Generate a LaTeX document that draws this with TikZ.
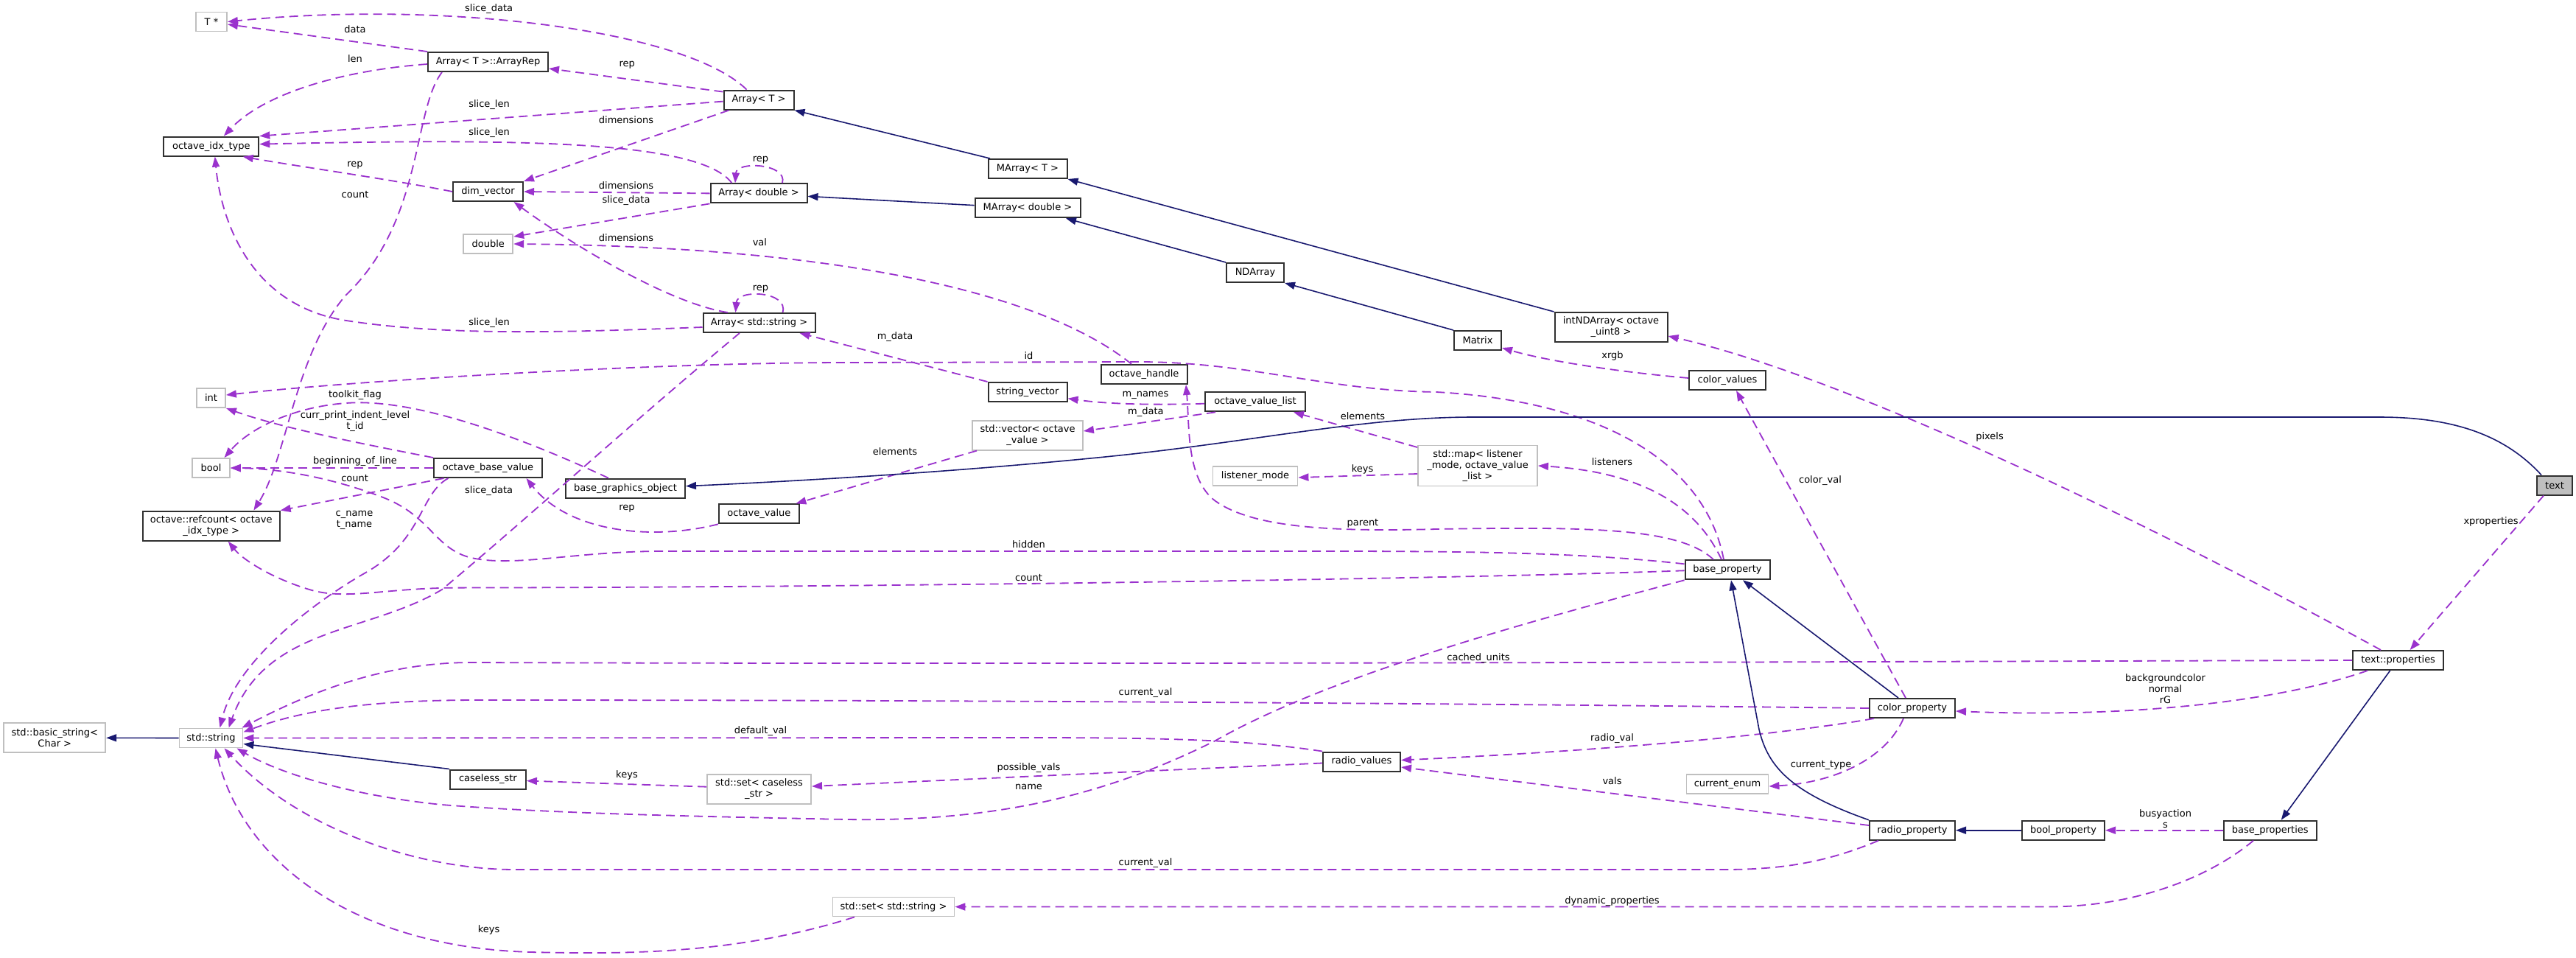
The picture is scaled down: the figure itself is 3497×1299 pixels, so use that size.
\documentclass[tikz,border=0pt]{standalone}
\usepackage{fontspec}
\setmainfont{DejaVu Sans}
\usetikzlibrary{arrows.meta}
\definecolor{usecol}{HTML}{9A32CD}
\definecolor{inhcol}{HTML}{191970}
\definecolor{grayb}{HTML}{BFBFBF}
\definecolor{darkb}{HTML}{303030}
\begin{document}
\begin{tikzpicture}[x=1pt,y=-1pt,
  every node/.style={font=\fontsize{13pt}{15pt}\selectfont, inner sep=0pt},
  clsbox/.style={draw=darkb, line width=2pt, fill=white, minimum height=26pt, align=center},
  extbox/.style={draw=grayb, line width=1.8pt, fill=white, minimum height=26pt, align=center},
  lbl/.style={align=center},
  usedge/.style={draw=usecol, line width=1.8pt, dash pattern=on 12pt off 7pt, -{Triangle[length=14pt,width=10pt]}},
  inhedge/.style={draw=inhcol, line width=1.6pt, -{Triangle[length=14pt,width=10pt]}}]
\fill[white] (0,0) rectangle (3497,1299);
\useasboundingbox (0,0) rectangle (3497,1299);

% nodes
\node[extbox, minimum width=42pt] (tstar) at (287,29.5) {T *};
\node[clsbox, minimum width=163pt] (arep) at (662.5,84) {Array< T >::ArrayRep};
\node[clsbox, minimum width=129pt] (oidx) at (286.8,198.6) {octave\_idx\_type};
\node[clsbox, minimum width=95pt] (dimv) at (662.5,260) {dim\_vector};
\node[extbox, minimum width=67pt] (dbl) at (662.8,331) {double};
\node[extbox, minimum width=39pt] (intn) at (286.5,540) {int};
\node[extbox, minimum width=51pt] (booln) at (286.5,635) {bool};
\node[clsbox, minimum width=147pt] (obv) at (662.5,635) {octave\_base\_value};
\node[clsbox, minimum width=95pt] (arrT) at (1030,135.6) {Array< T >};
\node[clsbox, minimum width=131pt] (arrD) at (1030,262.4) {Array< double >};
\node[clsbox, minimum width=107pt] (marrT) at (1395,229) {MArray< T >};
\node[clsbox, minimum width=143pt] (marrD) at (1395,282.3) {MArray< double >};
\node[clsbox, minimum width=78pt] (ndarr) at (1704,370) {NDArray};
\node[clsbox, minimum width=152pt] (arrS) at (1030.5,438) {Array< std::string >};
\node[clsbox, minimum width=107pt] (strvec) at (1395,532) {string\_vector};
\node[clsbox, minimum width=117pt] (ohandle) at (1553,508) {octave\_handle};
\node[clsbox, minimum width=136pt] (ovl) at (1704,545.3) {octave\_value\_list};
\node[extbox, minimum width=150pt, minimum height=40pt] (stdvec) at (1395,590.7) {std::vector< octave\\\_value >};
\node[extbox, minimum width=115pt] (lmode) at (1704,646) {listener\_mode};
\node[clsbox, minimum width=153pt, minimum height=40pt] (intnd) at (2187,444) {intNDArray< octave\\\_uint8 >};
\node[clsbox, minimum width=64pt] (matrix) at (2006,462) {Matrix};
\node[clsbox, minimum width=104pt] (cvals) at (2345,516) {color\_values};
\node[extbox, minimum width=162pt, minimum height=55pt] (stdmap) at (2006,632) {std::map< listener\\\_mode, octave\_value\\\_list >};
\node[clsbox, minimum width=115pt] (bprop) at (2345,773.3) {base\_property};
\node[clsbox, minimum width=116pt] (cprop) at (2596,961) {color\_property};
\node[clsbox, minimum width=105pt] (rvals) at (1848.5,1033.5) {radio\_values};
\node[extbox, minimum width=111pt] (cenum) at (2345,1064) {current\_enum};
\node[clsbox, minimum width=116pt] (rprop) at (2596,1126.7) {radio\_property};
\node[clsbox, minimum width=123pt] (tprops) at (3255.6,896) {text::properties};
\node[clsbox, minimum width=112pt] (boolprop) at (2801,1126.7) {bool\_property};
\node[clsbox, minimum width=126pt] (bprops) at (3081.7,1126.7) {base\_properties};
\node[clsbox, fill=grayb, minimum width=48pt] (textn) at (3468,658.6) {text};
\node[clsbox, minimum width=186pt, minimum height=40pt] (refc) at (286.7,713.6) {octave::refcount< octave\\\_idx\_type >};
\node[extbox, minimum width=138pt, minimum height=40pt] (bstr) at (74.3,1001.3) {std::basic\_string<\\Char >};
\node[extbox, minimum width=86pt] (sstr) at (286.5,1001.5) {std::string};
\node[clsbox, minimum width=103pt] (cstr) at (662.4,1057.5) {caseless\_str};
\node[clsbox, minimum width=162pt] (bgo) at (849,662.7) {base\_graphics\_object};
\node[clsbox, minimum width=109pt] (oval) at (1030.4,697.3) {octave\_value};
\node[extbox, minimum width=141pt, minimum height=40pt] (setcs) at (1030.6,1070.7) {std::set< caseless\\\_str >};
\node[extbox, minimum width=165pt] (setss) at (1213,1230.5) {std::set< std::string >};

% usage edges
\draw[usedge] ([xshift=-16.4pt]arrT.north) .. controls (930,40) and (600,0) .. (tstar.east);
\draw[usedge] (arep.north west) -- ([yshift=-3.5pt]tstar.east);
\draw[usedge] ([yshift=11pt]arrT.west) -- ([yshift=-9pt]arep.east);
\draw[usedge] ([yshift=-2pt]arrT.west) -- (oidx.north east);
\draw[usedge] ([xshift=8pt]arrT.south west) -- (dimv.north east);
\draw[usedge] ([yshift=-3pt]arep.west) .. controls (470,95) and (360,125) .. ([xshift=17pt]oidx.north);
\draw[usedge] ([xshift=-62.5pt]arep.south) .. controls (560,150) and (575,300) .. (470,400) .. controls (400,480) and (390,620) .. ([xshift=57.7pt]refc.north);
\draw[usedge] ([xshift=32pt]arrD.north) .. controls (1070,222) and (1000,218) .. ([xshift=-32pt]arrD.north);
\draw[usedge] ([xshift=-36.5pt]arrD.north) .. controls (950,190) and (700,188) .. ([yshift=3pt]oidx.east);
\draw[usedge] (arrD.west) -- (dimv.east);
\draw[usedge] (arrD.south west) -- ([yshift=-4pt]dbl.north east);
\draw[usedge] ([xshift=32pt]arrS.north) .. controls (1071,395) and (1001,392) .. ([xshift=-32pt]arrS.north);
\draw[usedge] ([yshift=-6pt]arrS.west) .. controls (750,452) and (600,455) .. (470,435) .. controls (340,415) and (300,300) .. ([xshift=5pt]oidx.south);
\draw[usedge] ([xshift=-42.7pt]arrS.north) .. controls (900,410) and (760,320) .. ([xshift=35pt]dimv.south);
\draw[usedge] ([xshift=-26.5pt]arrS.south) .. controls (850,580) and (720,700) .. (600,800) .. controls (500,860) and (360,850) .. ([xshift=24pt]sstr.north);
\draw[usedge] (dimv.west) .. controls (540,245) and (400,225) .. ([xshift=43pt]oidx.south);
\draw[usedge] ([xshift=-17pt]ohandle.north) .. controls (1420,400) and (1150,335) .. (dbl.east);
\draw[usedge] (strvec.north west) -- ([xshift=55pt]arrS.south);
\draw[usedge] ([yshift=-2.4pt]ovl.west) .. controls (1560,550) and (1500,548) .. ([yshift=-8.7pt]strvec.east);
\draw[usedge] ([xshift=-54pt]ovl.south) -- ([yshift=5.7pt]stdvec.east);
\draw[usedge] ([xshift=-69pt]stdvec.south) -- ([xshift=50pt]oval.north);
\draw[usedge] (oval.south west) .. controls (880,735) and (770,720) .. ([xshift=52pt]obv.south);
\draw[usedge] (obv.north west) .. controls (480,600) and (380,580) .. (intn.south east);
\draw[usedge] (obv.west) -- (booln.east);
\draw[usedge] ([xshift=-60pt]obv.south) -- (refc.north east);
\draw[usedge] ([xshift=-54pt]obv.south) .. controls (570,670) and (575,730) .. (500,775) .. controls (420,820) and (320,900) .. ([xshift=12pt]sstr.north);
\draw[usedge] ([xshift=-23pt]bgo.north) .. controls (700,590) and (560,540) .. (470,547) .. controls (400,552) and (340,580) .. ([xshift=18pt]booln.north);
\draw[usedge] ([yshift=8pt]bprop.west) .. controls (2150,750) and (2000,748) .. (1800,748) -- (900,748) .. controls (780,748) and (700,770) .. (640,757) .. controls (590,745) and (585,700) .. (520,675) .. controls (450,648) and (380,636) .. (booln.east);
\draw[usedge] ([yshift=-1pt]bprop.west) .. controls (2000,785) and (1200,797) .. (620,797.6) .. controls (520,798) and (470,815) .. (420,800) .. controls (370,785) and (330,760) .. ([xshift=23pt]refc.south);
\draw[usedge] ([xshift=-5pt]bprop.north) .. controls (2315,630) and (2180,545) .. (1950,532) .. controls (1800,530) and (1700,492) .. (1550,491) -- (1150,492) .. controls (900,492) and (500,515) .. ([yshift=4pt]intn.east);
\draw[usedge] ([xshift=-19pt]bprop.north) .. controls (2280,715) and (2150,715) .. (1950,718) .. controls (1800,722) and (1700,715) .. (1650,680) .. controls (1610,650) and (1615,580) .. ([xshift=57pt]ohandle.south);
\draw[usedge] ([xshift=-8pt]bprop.north) .. controls (2300,680) and (2220,640) .. (stdmap.east);
\draw[usedge] (bprop.south west) .. controls (2050,850) and (1800,920) .. (1650,1005) .. controls (1500,1080) and (1350,1115) .. (1150,1112) .. controls (950,1108) and (750,1104) .. (600,1092) .. controls (480,1080) and (380,1050) .. ([xshift=35pt]sstr.south);
\draw[usedge] ([yshift=-11pt]stdmap.west) -- ([yshift=-2pt]lmode.east);
\draw[usedge] ([yshift=25pt]stdmap.west) -- ([xshift=52pt]ovl.south);
\draw[usedge] ([yshift=3pt]cvals.west) .. controls (2200,505) and (2100,490) .. ([yshift=-10pt]matrix.east);
\draw[usedge] ([xshift=-52pt]cprop.south) .. controls (2400,1000) and (2150,1020) .. ([yshift=2pt]rvals.east);
\draw[usedge] ([xshift=-9pt]cprop.north) -- ([xshift=12pt]cvals.south);
\draw[usedge] ([xshift=-12pt]cprop.south) .. controls (2560,1030) and (2490,1062) .. ([yshift=-3pt]cenum.east);
\draw[usedge] (cprop.west) .. controls (2200,957) and (1500,950) .. (650,950) .. controls (520,950) and (420,960) .. ([yshift=8pt]sstr.east);
\draw[usedge] ([yshift=6.7pt]rprop.west) -- ([yshift=-7.5pt]rvals.east);
\draw[usedge] ([xshift=-46pt]rprop.south) .. controls (2480,1170) and (2420,1180) .. (2340,1180) -- (700,1180) .. controls (560,1180) and (400,1120) .. ([xshift=18pt]sstr.south);
\draw[usedge] (rvals.north west) .. controls (1700,1005) and (1600,1001) .. (1400,1001) -- (sstr.east);
\draw[usedge] ([yshift=-2pt]rvals.west) -- ([yshift=3.7pt]setcs.east);
\draw[usedge] ([yshift=3pt]setcs.west) -- ([yshift=-2pt]cstr.east);
\draw[usedge] ([xshift=-53pt]setss.south) .. controls (1000,1295) and (850,1295) .. (720,1292) .. controls (480,1285) and (330,1170) .. ([xshift=6pt]sstr.south);
\draw[usedge] (tprops.west) .. controls (2500,898) and (1500,902) .. (640,899) .. controls (520,899) and (420,940) .. ([xshift=-2pt]sstr.north east);
\draw[usedge] ([xshift=-23.6pt]tprops.north) .. controls (2900,700) and (2500,510) .. ([yshift=-12pt]intnd.east);
\draw[usedge] ([xshift=-41.6pt]tprops.south) .. controls (3100,950) and (2900,975) .. ([yshift=-4pt]cprop.east);
\draw[usedge] ([xshift=-15pt]textn.south) -- ([xshift=16pt]tprops.north);
\draw[usedge] (bprops.west) -- (boolprop.east);
\draw[usedge] ([xshift=-22.7pt]bprops.south) .. controls (3000,1190) and (2900,1230.5) .. (2780,1230.5) -- (setss.east);

% inheritance edges
\draw[inhedge] ([xshift=-51pt]marrT.north) -- (arrT.south east);
\draw[inhedge] (intnd.north west) -- (marrT.south east);
\draw[inhedge] ([yshift=3.7pt]marrD.west) -- ([yshift=-4pt]arrD.east);
\draw[inhedge] (ndarr.north west) -- ([xshift=52pt]marrD.south);
\draw[inhedge] (matrix.north west) -- (ndarr.south east);
\draw[inhedge] ([xshift=-18pt]textn.north) .. controls (3400,590) and (3330,566) .. (3230,566) -- (2000,566) .. controls (1850,566) and (1700,600) .. (1500,620) .. controls (1300,640) and (1100,652) .. ([yshift=3pt]bgo.east);
\draw[inhedge] ([xshift=-19pt]cprop.north) -- ([xshift=21pt]bprop.south);
\draw[inhedge] (rprop.north west) .. controls (2430,1075) and (2400,1040) .. (2388,990) -- ([xshift=5pt]bprop.south);
\draw[inhedge] (boolprop.west) -- (rprop.east);
\draw[inhedge] ([xshift=-11pt]tprops.south) -- ([xshift=15pt]bprops.north);
\draw[inhedge] (sstr.west) -- (bstr.east);
\draw[inhedge] (cstr.north west) -- ([yshift=-8pt]sstr.east);

% labels
\node[lbl] (l1) at (663.6,11.6) {slice\_data};
\node[lbl] (l2) at (482,39.4) {data};
\node[lbl] (l3) at (851.3,88) {rep};
\node[lbl] (l4) at (482,80) {len};
\node[lbl] (l5) at (664,142.2) {slice\_len};
\node[lbl] (l6) at (850,163) {dimensions};
\node[lbl] (l7) at (664,180.3) {slice\_len};
\node[lbl] (l8) at (482,223.9) {rep};
\node[lbl] (l9) at (482,263.7) {count};
\node[lbl] (l10) at (1032.5,216.8) {rep};
\node[lbl] (l11) at (850,251.7) {dimensions};
\node[lbl] (l12) at (850,272.4) {slice\_data};
\node[lbl] (l13) at (850,322.6) {dimensions};
\node[lbl] (l14) at (1031.4,328.4) {val};
\node[lbl] (l15) at (1032.5,392.6) {rep};
\node[lbl] (l16) at (664,438.2) {slice\_len};
\node[lbl] (l17) at (1215,456.9) {m\_data};
\node[lbl] (l18) at (1396.5,483) {id};
\node[lbl] (l19) at (482,536) {toolkit\_flag};
\node[lbl] (l20) at (482,571.5) {curr\_print\_indent\_level\\t\_id};
\node[lbl] (l21) at (1555,536.7) {m\_names};
\node[lbl] (l22) at (1555.4,559.3) {m\_data};
\node[lbl] (l23) at (1850,564.3) {elements};
\node[lbl] (l24) at (1215,612.8) {elements};
\node[lbl] (l25) at (1849.5,636.7) {keys};
\node[lbl] (l26) at (2188.5,626.5) {listeners};
\node[lbl] (l27) at (482,626) {beginning\_of\_line};
\node[lbl] (l28) at (481.6,648.6) {count};
\node[lbl] (l29) at (663.6,666.3) {slice\_data};
\node[lbl] (l30) at (851,690.7) {rep};
\node[lbl] (l31) at (481,706) {c\_name\\t\_name};
\node[lbl] (l32) at (1850,710.5) {parent};
\node[lbl] (l33) at (1396.5,739) {hidden};
\node[lbl] (l34) at (1396.5,783.7) {count};
\node[lbl] (l35) at (2189,483.4) {xrgb};
\node[lbl] (l36) at (2701,593) {pixels};
\node[lbl] (l37) at (2471,651.6) {color\_val};
\node[lbl] (l38) at (3381.5,707.5) {xproperties};
\node[lbl] (l39) at (2007,893) {cached\_units};
\node[lbl] (l40) at (2939.5,935) {backgroundcolor\\normal\\rG};
\node[lbl] (l41) at (1555,940.5) {current\_val};
\node[lbl] (l42) at (1032.5,992.5) {default\_val};
\node[lbl] (l43) at (2188.5,1002.4) {radio\_val};
\node[lbl] (l44) at (2472,1038.8) {current\_type};
\node[lbl] (l45) at (1396.5,1042) {possible\_vals};
\node[lbl] (l46) at (851,1051.7) {keys};
\node[lbl] (l47) at (2188.5,1059.6) {vals};
\node[lbl] (l48) at (1396.5,1067.8) {name};
\node[lbl] (l49) at (2939.5,1111) {busyaction\\s};
\node[lbl] (l50) at (1555,1171) {current\_val};
\node[lbl] (l51) at (2188.5,1222.8) {dynamic\_properties};
\node[lbl] (l52) at (663.6,1262) {keys};
\end{tikzpicture}
\end{document}
